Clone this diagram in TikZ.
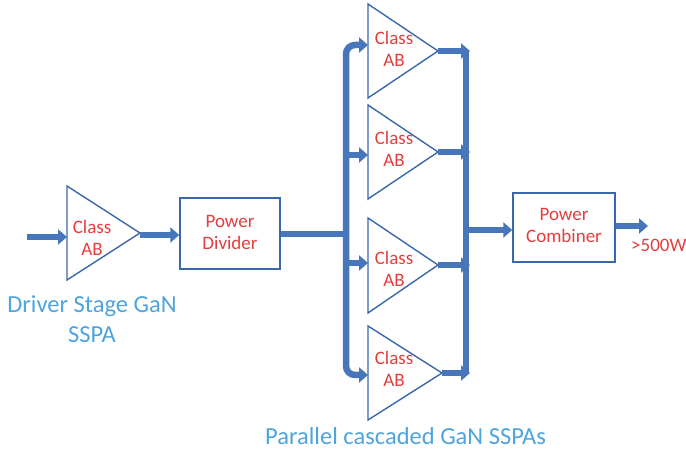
\documentclass[tikz,border=0pt]{standalone}
\usepackage{fontspec}
\setmainfont{Carlito}
\usetikzlibrary{arrows.meta}
\definecolor{flowblue}{RGB}{72,118,186}
\definecolor{edgeblue}{RGB}{58,104,170}
\definecolor{labelred}{RGB}{228,62,62}
\definecolor{captionblue}{RGB}{78,164,220}
\tikzset{
  flow/.style={draw=flowblue, line width=6.5pt},
  flowarrow/.style={flow, -{Triangle[width=15pt,length=9pt]}},
  ampshape/.style={draw=edgeblue, line width=1.4pt, fill=white, line join=miter},
  blockbox/.style={draw=edgeblue, line width=1.4pt, fill=white},
  redtext/.style={text=labelred, font=\fontsize{19}{22.5}\selectfont, align=center, inner sep=0pt},
  caption/.style={text=captionblue, font=\fontsize{24.5}{30}\selectfont, align=center, inner sep=0pt}
}
\begin{document}
\begin{tikzpicture}[x=1pt,y=-1pt]
\useasboundingbox (0,0) rectangle (686,454);

% ---------- driver stage ----------
% (two-line labels are placed by the baseline of their last line)
\coordinate (in) at (27,237);
\coordinate (drvin) at (67,237);
\coordinate (drvout) at (140,235);
\draw[ampshape] (67,186) -- (67,280) -- (140,233) -- cycle;
\node[redtext, anchor=base] (drvlabel) at (92,256) {Class\\AB};
\draw[flowarrow] (in) -- (drvin);

% power divider
\node[blockbox, minimum width=100pt, minimum height=71pt] (divider) at (230,233.5) {};
\node[redtext, anchor=base] (divlabel) at (230,250) {Power\\Divider};
\draw[flowarrow] (drvout) -- (divider.west |- drvout);

% ---------- parallel amplifiers ----------
% left edge x=368; tops / bottoms / tip heights / tip x / label baseline
\foreach \name/\top/\bot/\tip/\tipx/\base in
  {a/4/98/51/438/67, b/105/199/152/438/167, c/218/313/265/438/287, d/326/420/373/442/387}{
  \draw[ampshape] (368,\top) -- (368,\bot) -- (\tipx,\tip) -- cycle;
  \coordinate (\name in) at (368,\tip);
  \coordinate (\name out) at (\tipx,\tip);
  \node[redtext, anchor=base] (\name label) at (394,\base) {Class\\AB};
}

% input bus
\coordinate (split) at (346,234);
\draw[flow] (divider.east |- split) -- (split);
\draw[flowarrow, rounded corners=9pt] (split) |- (368,45);
\draw[flowarrow, rounded corners=9pt] (split) |- (368,375);
\draw[flowarrow] (346,155) -- (368,155);
\draw[flowarrow] (346,263) -- (368,263);

% output bus
\coordinate (mergetop) at (466,51);
\coordinate (mergebot) at (466,373);
\draw[flow] (mergetop) -- (mergebot);
\foreach \name in {a,b,c,d}
  \draw[flowarrow] (\name out) -- (470,0 |- \name out);

% power combiner
\node[blockbox, minimum width=102pt, minimum height=69pt] (combiner) at (564,227.5) {};
\node[redtext, anchor=base] (comblabel) at (564,243) {Power\\Combiner};
\draw[flowarrow] (466,230) -- (combiner.west |- 0,230);
\draw[flowarrow] (combiner.east |- 0,226) -- (648,226);
\node[redtext, anchor=base west] (outpower) at (631,252) {>500W};

% captions
\node[caption, anchor=base] (drvcaption) at (92,343) {Driver Stage GaN\\SSPA};
\node[caption, anchor=base west] (parcaption) at (265,445) {Parallel cascaded GaN SSPAs};
\end{tikzpicture}
\end{document}
